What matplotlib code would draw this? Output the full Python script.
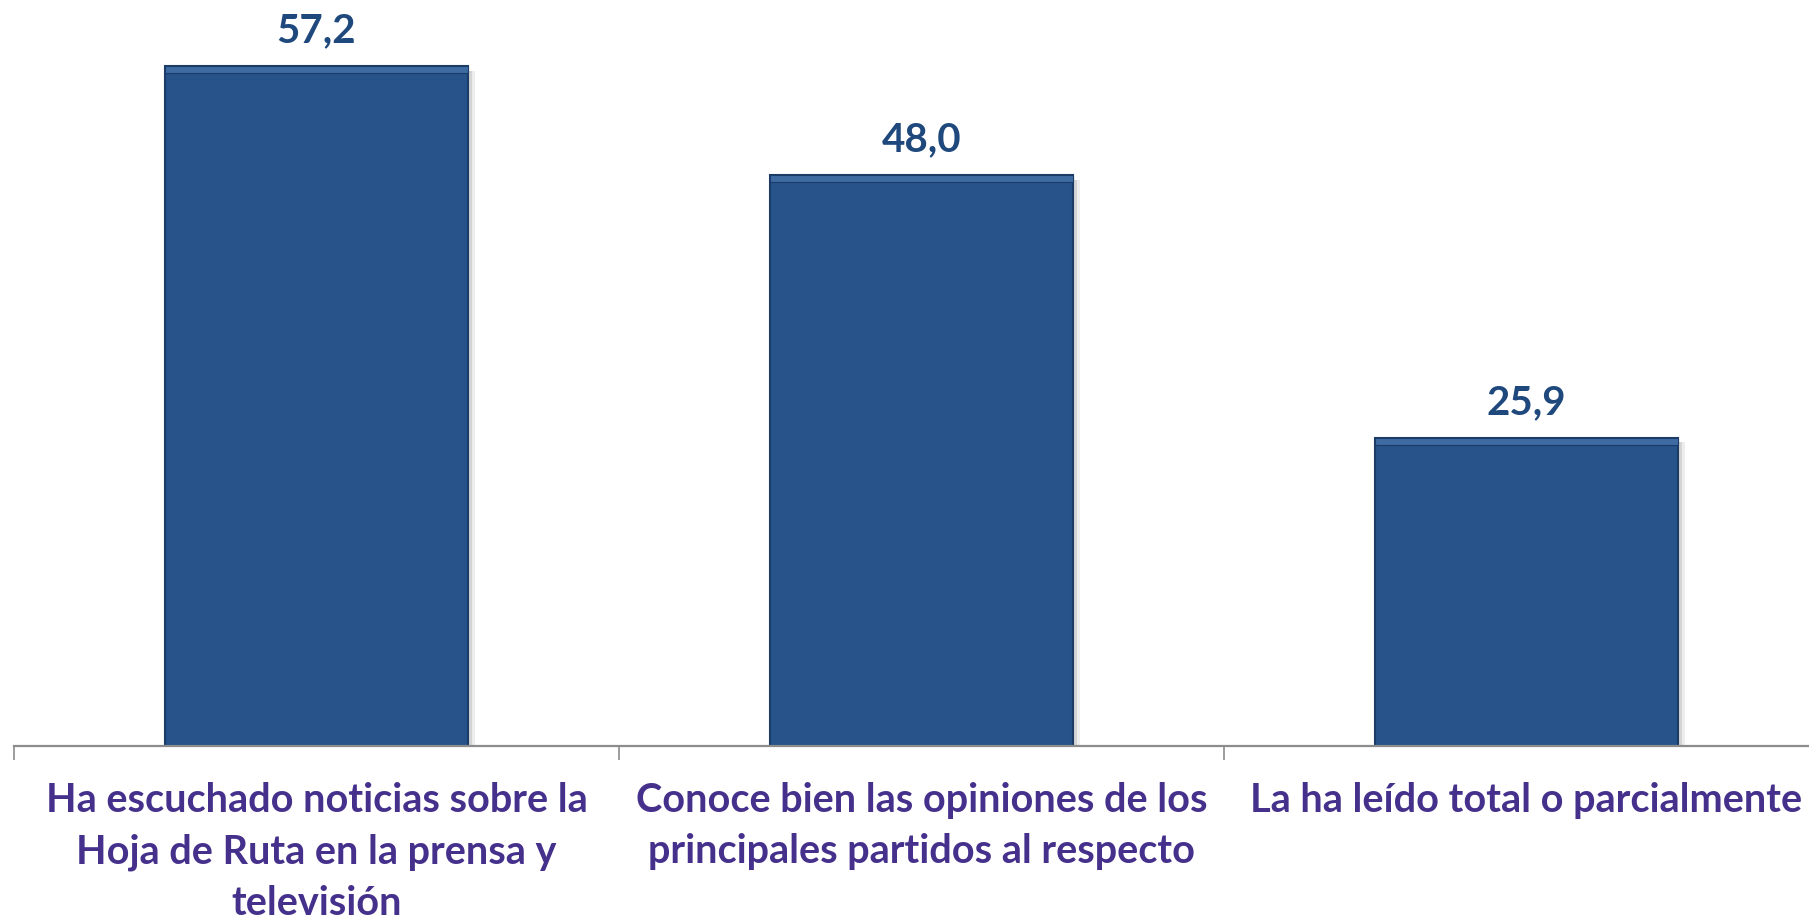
import matplotlib
matplotlib.use("Agg")
import matplotlib.pyplot as plt

categories = [
    "Ha escuchado noticias sobre la\nHoja de Ruta en la prensa y\ntelevisión",
    "Conoce bien las opiniones de los\nprincipales partidos al respecto",
    "La ha leído total o parcialmente",
]
values = [57.2, 48.0, 25.9]
value_labels = ["57,2", "48,0", "25,9"]

BAR_COLOR = "#27528A"
EDGE_COLOR = "#1B3C66"
TOP_LIGHT = "#3F6BA3"
VALUE_COLOR = "#1F497D"
CAT_COLOR = "#45318C"
FONT = ["Lato", "DejaVu Sans"]

W, H = 1809, 921
fig = plt.figure(figsize=(W / 100, H / 100), dpi=100)
left_px, right_px = 14, 1829
axis_y = 745.5
top_px = 32.5
ax = fig.add_axes([left_px / W, (H - axis_y) / H, (right_px - left_px) / W, (axis_y - top_px) / H])
ax.set_xlim(-0.5, len(values) - 0.5)
ax.set_ylim(0, 60)

x = list(range(len(values)))
# soft shadow
for off, a in [(0.012, 0.15), (0.007, 0.25)]:
    ax.bar([xi + off for xi in x], values, width=0.5, color="#8a8a8a", alpha=a, zorder=1,
           bottom=[-0.4] * len(values))
bars = ax.bar(x, values, width=0.5, color=BAR_COLOR, edgecolor=EDGE_COLOR, linewidth=1.5, zorder=2)
# top bevel highlight
ax.bar(x, [0.6] * len(values), bottom=[v - 0.6 for v in values], width=0.5,
       color=TOP_LIGHT, edgecolor=EDGE_COLOR, linewidth=0.8, zorder=3)

for xi, v, lab in zip(x, values, value_labels):
    ax.annotate(lab, (xi, v), xytext=(0, 17), textcoords="offset pixels",
                ha="center", va="bottom", fontsize=29, fontweight="bold",
                color=VALUE_COLOR, family=FONT)

for s in ["top", "right", "left"]:
    ax.spines[s].set_visible(False)
ax.spines["bottom"].set_color("#8C8C8C")
ax.spines["bottom"].set_linewidth(1.6)
ax.set_yticks([])
ax.set_xticks([i - 0.5 for i in range(len(values) + 1)])
ax.set_xticklabels([])
ax.tick_params(axis="x", length=10, width=1.2, color="#8C8C8C", direction="out")

for xi, cat in zip(x, categories):
    ax.annotate(cat, (xi, 0), xytext=(0, -36), textcoords="offset pixels",
                ha="center", va="top", multialignment="center", fontsize=28.5,
                fontweight="bold", color=CAT_COLOR, family=FONT, linespacing=1.49,
                annotation_clip=False)

fig.savefig("out.png", dpi=100)
